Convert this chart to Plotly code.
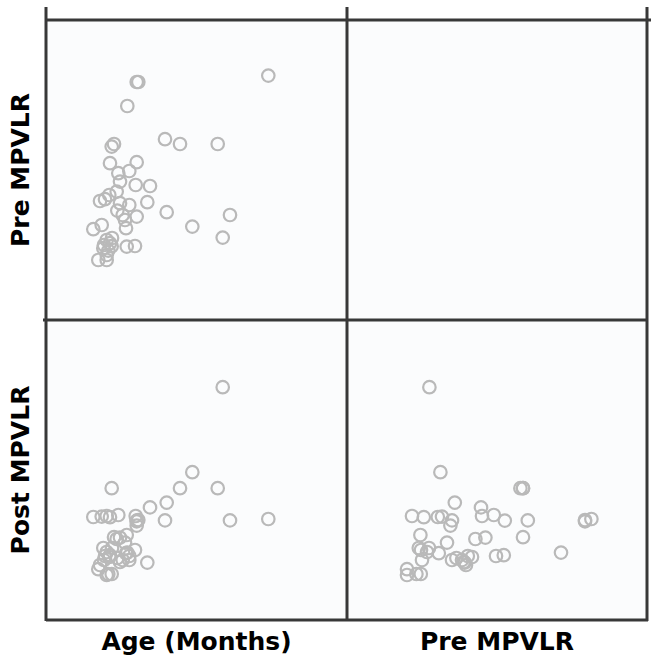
import plotly.graph_objects as go

# Subject-level values (age in months, MPVLR before and after)
age = [110.78, 88.06, 72.91, 66.78, 85.57, 32.74, 60.15, 51.83, 59.30, 91.69,
       23.57, 45.20, 46.00, 45.20, 36.03, 44.70, 45.20, 27.76, 31.89, 30.25,
       40.52, 40.22, 39.37, 35.23, 36.88, 33.89, 41.51, 31.89, 50.48, 26.06,
       31.05, 39.87, 35.53, 41.51, 36.88, 29.40, 26.91, 31.54, 38.22, 44.35,
       28.55, 30.25, 30.25, 32.74, 28.90, 32.90]
pre_mpvlr = [12.22, 4.12, 4.67, 8.80, 8.80, 8.67, 5.39, 6.70, 9.04, 5.25,
             4.54, 11.90, 11.90, 7.89, 7.34, 6.75, 5.17, 4.75, 3.84, 3.25,
             10.70, 3.67, 5.00, 6.42, 6.92, 8.80, 7.45, 7.84, 5.89, 3.00,
             3.47, 4.59, 5.47, 5.75, 5.84, 6.04, 5.95, 6.25, 5.25, 3.70,
             3.59, 4.00, 3.00, 3.69, 3.75, 4.10]
post_mpvlr = [5.05, 11.64, 7.39, 6.59, 6.59, 6.59, 5.87, 5.63, 4.98, 4.98,
              5.15, 4.93, 5.00, 4.97, 5.25, 5.20, 4.72, 5.17, 5.14, 5.20,
              3.37, 4.25, 3.87, 4.05, 4.12, 4.14, 3.20, 3.24, 2.87, 2.54,
              2.30, 3.34, 3.10, 3.00, 2.90, 3.20, 2.75, 3.15, 3.00, 3.50,
              3.60, 3.40, 2.25, 2.30, 3.00, 3.60]

age_label = "Age (Months)"
pre_label = "Pre MPVLR"
post_label = "Post MPVLR"

AGE_RANGE = [0, 150]
PRE_RANGE = [0, 15]
POST_RANGE = [0, 15]

W, H = 651, 664


def px(x):
    return x / W


def py(y):
    return 1 - y / H


LEFT = [px(46), px(347)]
RIGHT = [px(347), px(647)]
TOP = [py(320), py(20)]
BOTTOM = [py(620), py(320)]

marker = dict(symbol="circle-open", size=12.5, color="#b9b9b9", line=dict(width=2.2))

fig = go.Figure()
fig.add_trace(go.Scatter(x=age, y=pre_mpvlr, mode="markers", marker=marker,
                         xaxis="x", yaxis="y", showlegend=False))
fig.add_trace(go.Scatter(x=[], y=[], mode="markers", marker=marker,
                         xaxis="x2", yaxis="y2", showlegend=False))
fig.add_trace(go.Scatter(x=age, y=post_mpvlr, mode="markers", marker=marker,
                         xaxis="x3", yaxis="y3", showlegend=False))
fig.add_trace(go.Scatter(x=pre_mpvlr, y=post_mpvlr, mode="markers", marker=marker,
                         xaxis="x4", yaxis="y4", showlegend=False))

title_font = dict(family="DejaVu Sans", size=25, color="#000000", weight="bold")
common = dict(showgrid=False, zeroline=False, showticklabels=False, ticks="",
              showline=False, automargin=False, fixedrange=True)

fig.update_layout(
    width=W, height=H, autosize=False,
    margin=dict(l=0, r=0, t=0, b=0),
    paper_bgcolor="#ffffff",
    plot_bgcolor="#fbfcfd",
    template="none",
    xaxis=dict(domain=LEFT, range=AGE_RANGE, anchor="y", **common),
    yaxis=dict(domain=TOP, range=PRE_RANGE, anchor="x",
               title=dict(text=pre_label, font=title_font, standoff=8), **common),
    xaxis2=dict(domain=RIGHT, range=PRE_RANGE, anchor="y2", **common),
    yaxis2=dict(domain=TOP, range=PRE_RANGE, anchor="x2", **common),
    xaxis3=dict(domain=LEFT, range=AGE_RANGE, anchor="y3",
                title=dict(text=age_label, font=title_font, standoff=12), **common),
    yaxis3=dict(domain=BOTTOM, range=POST_RANGE, anchor="x3",
                title=dict(text=post_label, font=title_font, standoff=8), **common),
    xaxis4=dict(domain=RIGHT, range=PRE_RANGE, anchor="y4",
                title=dict(text=pre_label, font=title_font, standoff=12), **common),
    yaxis4=dict(domain=BOTTOM, range=POST_RANGE, anchor="x4", **common),
)

frame = dict(color="#383838", width=3)
segments = [
    (46, 7, 46, 621), (347, 7, 347, 621), (647, 7, 647, 621),
    (46, 20, 651, 20), (43, 320, 647, 320), (46, 620, 648, 620),
]
for x0, y0, x1, y1 in segments:
    fig.add_shape(type="line", xref="paper", yref="paper",
                  x0=px(x0), y0=py(y0), x1=px(x1), y1=py(y1), line=frame)

# remove the browser's default 8 px body margin so the figure fills the window exactly
fig.write_html(
    "out.html",
    config={"displayModeBar": False, "staticPlot": True},
    post_script="document.body.style.margin='0';document.body.style.overflow='hidden';",
)
